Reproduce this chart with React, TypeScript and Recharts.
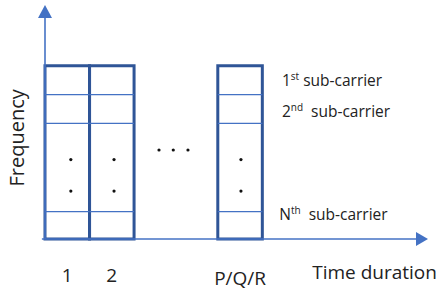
import React from 'react';
import { ComposedChart, XAxis, YAxis, ReferenceArea, ReferenceLine, ReferenceDot, Scatter } from 'recharts';

// Time slots (columns) in time units
const columnLabels = ['1', '2', 'P/Q/R'];
const columnStarts = [0, 1, 3.88];
const columnEnds = [1, 2, 4.88];
const columnDotX = [0.58, 1.55, 4.4];
const columnLabelY = [-1.49, -1.49, -1.58];

// Frequency levels (in sub-carrier units)
const bandTop = 6;
const subcarrierLines = [5, 4, 0.95];
const verticalDotsY = [2.75, 1.66];
const ellipsisX = [2.56, 2.88, 3.21];
const ellipsisY = 3.08;

// Sub-carrier labels
const subLabelMain = ['1', '2', 'N'];
const subLabelSup = ['st', 'nd', 'th'];
const subLabelX = [5.32, 5.32, 5.26];
const subLabelY = [5.29, 4.22, 0.66];

const xAxisMax = 8.6;
const yAxisMax = 8.1;

const AXIS = '#4472C4';
const BOX = '#2F5597';
const FONT = "'Open Sans', 'Liberation Sans', sans-serif";

const dotData = [
  ...columnDotX.flatMap((x) => verticalDotsY.map((y) => ({ x, y }))),
  ...ellipsisX.map((x) => ({ x, y: ellipsisY })),
];

const arrowRight = (p: any) => (
  <polygon points={`${p.cx},${p.cy} ${p.cx - 12},${p.cy - 7} ${p.cx - 12},${p.cy + 7}`} fill={AXIS} />
);
const arrowUp = (p: any) => (
  <polygon points={`${p.cx},${p.cy} ${p.cx - 7},${p.cy + 13} ${p.cx + 7},${p.cy + 13}`} fill={AXIS} />
);

const textShape = (txt: string, size: number, anchor: string, rotate = false) => (p: any) => (
  <text
    x={p.cx}
    y={p.cy}
    fontSize={size}
    fontFamily={FONT}
    fill="#222"
    textAnchor={anchor}
    transform={rotate ? `rotate(-90 ${p.cx} ${p.cy})` : undefined}
  >
    {txt}
  </text>
);

const subLabelShape = (i: number) => (p: any) => (
  <text x={p.cx} y={p.cy} fontSize={15.5} fontFamily={FONT} fill="#222">
    {subLabelMain[i]}
    <tspan fontSize={10} dy={-6}>{subLabelSup[i]}</tspan>
    <tspan dy={6} dx={i === 0 ? 4 : 8}>sub-carrier</tspan>
  </text>
);

const dotShape = (p: any) => <circle cx={p.cx} cy={p.cy} r={1.6} fill="#111" />;

export default function App() {
  return (
    <div style={{ position: 'absolute', left: 0, top: 0, width: 442, height: 295, background: '#fff' }}>
      <ComposedChart width={442} height={295} margin={{ top: 5, left: 45, right: 14, bottom: 56 }}>
        <XAxis type="number" dataKey="x" domain={[0, xAxisMax]} hide allowDataOverflow />
        <YAxis type="number" dataKey="y" domain={[0, yAxisMax]} hide allowDataOverflow />

        {/* axes */}
        <ReferenceLine segment={[{ x: -0.07, y: 0 }, { x: xAxisMax - 0.2, y: 0 }]} stroke={AXIS} strokeWidth={1.6} ifOverflow="visible" />
        <ReferenceLine segment={[{ x: 0, y: 0 }, { x: 0, y: yAxisMax - 0.3 }]} stroke={AXIS} strokeWidth={1.6} ifOverflow="visible" />
        <ReferenceDot x={xAxisMax} y={0} r={0} shape={arrowRight} ifOverflow="visible" />
        <ReferenceDot x={0} y={yAxisMax} r={0} shape={arrowUp} ifOverflow="visible" />

        {/* sub-carrier boundaries */}
        {columnStarts.flatMap((s, ci) =>
          subcarrierLines.map((y, li) => (
            <ReferenceLine
              key={`l${ci}-${li}`}
              segment={[{ x: s, y }, { x: columnEnds[ci], y }]}
              stroke={AXIS}
              strokeWidth={1.2}
            />
          ))
        )}

        {/* time slot boxes */}
        {columnStarts.map((s, i) => (
          <ReferenceArea
            key={`b${i}`}
            x1={s}
            x2={columnEnds[i]}
            y1={0}
            y2={bandTop}
            fill="none"
            fillOpacity={0}
            stroke={BOX}
            strokeWidth={3}
            ifOverflow="visible"
          />
        ))}

        <Scatter data={dotData} dataKey="y" shape={dotShape} isAnimationActive={false} />

        {/* column labels */}
        {columnLabels.map((lab, i) => (
          <ReferenceDot
            key={`c${i}`}
            x={(columnStarts[i] + columnEnds[i]) / 2}
            y={columnLabelY[i]}
            r={0}
            shape={textShape(lab, 19, 'middle')}
            ifOverflow="visible"
          />
        ))}

        {/* sub-carrier labels */}
        {subLabelMain.map((_, i) => (
          <ReferenceDot key={`s${i}`} x={subLabelX[i]} y={subLabelY[i]} r={0} shape={subLabelShape(i)} ifOverflow="visible" />
        ))}

        <ReferenceDot x={6.0} y={-1.38} r={0} shape={textShape('Time duration', 19, 'start')} ifOverflow="visible" />
        <ReferenceDot x={-0.47} y={3.5} r={0} shape={textShape('Frequency', 20, 'middle', true)} ifOverflow="visible" />
      </ComposedChart>
    </div>
  );
}
